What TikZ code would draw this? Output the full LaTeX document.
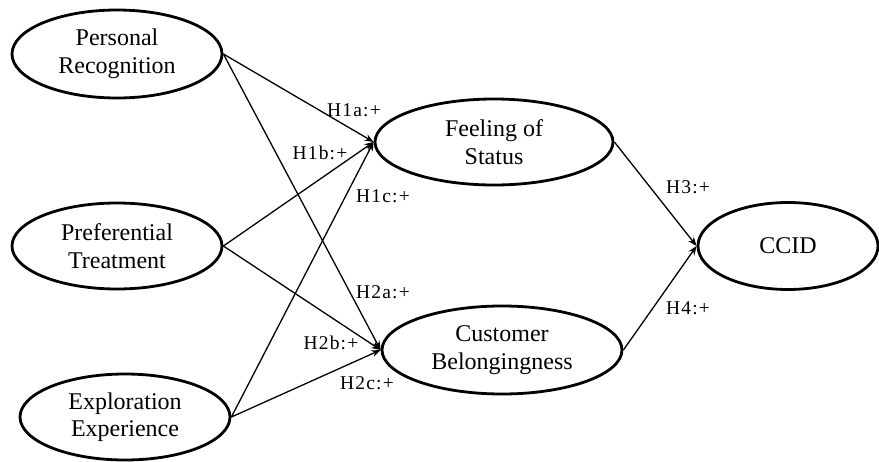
\documentclass[tikz,border=0pt]{standalone}
\usepackage{fontspec}
\setmainfont{Liberation Serif}
\newfontfamily\labfont[LetterSpace=6]{Liberation Serif}
\usetikzlibrary{shapes.geometric,arrows.meta}
\begin{document}
\begin{tikzpicture}[x=1pt,y=-1pt,
  construct/.style={draw,ellipse,line width=2.8pt,inner sep=0pt,align=center,
    font=\fontsize{24}{27.5}\selectfont},
  arr/.style={-{Stealth[length=9pt,width=7pt]},line width=1.3pt},
  hlab/.style={font=\labfont\fontsize{19.5}{22}\selectfont,inner sep=0pt}]
\useasboundingbox (0,0) rectangle (879,461);
\node[construct,minimum width=210pt,minimum height=88pt] (pr) at (117,54) {Personal\\Recognition};
\node[construct,minimum width=210pt,minimum height=86pt] (pt) at (117,246) {Preferential\\Treatment};
\node[construct,minimum width=210pt,minimum height=86pt] (ee) at (125,417) {Exploration\\Experience};
\node[construct,minimum width=238pt,minimum height=86pt] (fos) at (494,142) {Feeling of\\Status};
\node[construct,minimum width=240pt,minimum height=88pt] (cb) at (502,350) {Customer\\Belongingness};
\node[construct,minimum width=180pt,minimum height=87pt] (ccid) at (788,246) {CCID};
\draw[arr] (pr.east) -- (fos.west);
\draw[arr] (pr.east) -- (cb.west);
\draw[arr] (pt.east) -- (fos.west);
\draw[arr] (pt.east) -- (cb.west);
\draw[arr] (ee.east) -- (fos.west);
\draw[arr] (ee.east) -- (cb.west);
\draw[arr] (fos.east) -- (ccid.west);
\draw[arr] (cb.east) -- (ccid.west);
\node[hlab] (l1a) at (354,110) {H1a:+};
\node[hlab] (l1b) at (320,153) {H1b:+};
\node[hlab] (l1c) at (383,196) {H1c:+};
\node[hlab] (l2a) at (383,292) {H2a:+};
\node[hlab] (l2b) at (331,343) {H2b:+};
\node[hlab] (l2c) at (367,383) {H2c:+};
\node[hlab] (l3) at (688,187) {H3:+};
\node[hlab] (l4) at (688,308) {H4:+};
\end{tikzpicture}
\end{document}
